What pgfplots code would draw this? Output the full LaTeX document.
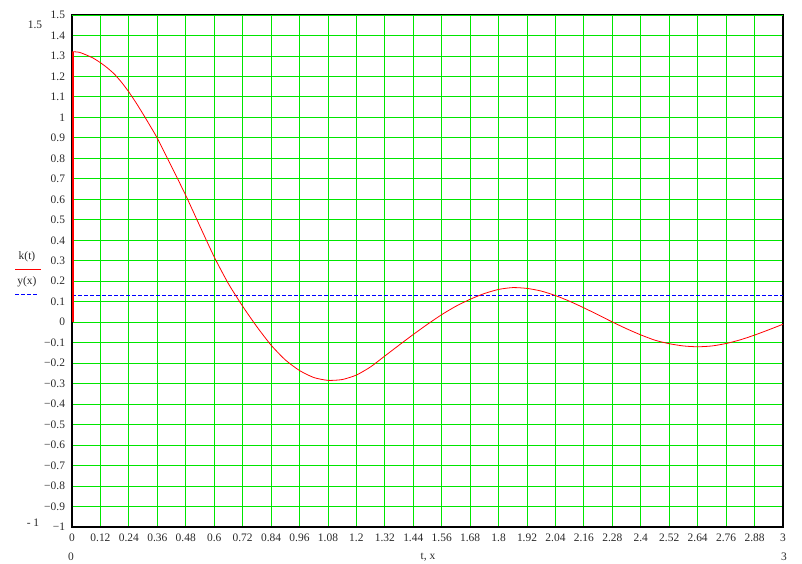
\documentclass[border=0pt]{standalone}
\usepackage{pgfplots}
\pgfplotsset{compat=1.18}
\usepackage{fontspec}
\setmainfont{Liberation Serif}
\definecolor{gridgreen}{RGB}{0,230,0}
\definecolor{txt}{RGB}{40,40,40}
\begin{document}
\fontsize{11.5}{13}\selectfont
\begin{tikzpicture}
\useasboundingbox (0,0) rectangle (802bp,564bp);
\begin{axis}[
  at={(72bp,37bp)}, anchor=south west,
  scale only axis, width=711bp, height=512bp,
  xmin=0, xmax=3, ymin=-1, ymax=1.5,
  xtick={0,0.12,0.24,0.36,0.48,0.6,0.72,0.84,0.96,1.08,1.2,1.32,1.44,1.56,1.68,1.8,1.92,2.04,2.16,2.28,2.4,2.52,2.64,2.76,2.88,3},
  xticklabels={0,0.12,0.24,0.36,0.48,0.6,0.72,0.84,0.96,1.08,1.2,1.32,1.44,1.56,1.68,1.8,1.92,2.04,2.16,2.28,2.4,2.52,2.64,2.76,2.88,3},
  ytick={-1,-0.9,-0.8,-0.7,-0.6,-0.5,-0.4,-0.3,-0.2,-0.1,0,0.1,0.2,0.3,0.4,0.5,0.6,0.7,0.8,0.9,1,1.1,1.2,1.3,1.4,1.5},
  yticklabels={−1,−0.9,−0.8,−0.7,−0.6,−0.5,−0.4,−0.3,−0.2,−0.1,0,0.1,0.2,0.3,0.4,0.5,0.6,0.7,0.8,0.9,1,1.1,1.2,1.3,1.4,1.5},
  major tick length=0pt,
  tick label style={font=\fontsize{11.5}{13}\selectfont, text=txt},
  xticklabel style={yshift=-3bp},
  yticklabel style={xshift=-3bp},
  grid=major,
  major grid style={gridgreen, line width=0.9pt},
  axis line style={black, line width=1.2pt},
  clip=false,
]
\addplot[blue, line width=0.8pt, dash pattern=on 3.5bp off 2.5bp] coordinates {(0,0.133) (3,0.133)};
\addplot[red, line width=0.8pt, smooth, tension=0.4] table {
x y
0 1.321
0.03 1.318
0.06 1.305
0.09 1.289
0.12 1.267
0.15 1.241
0.18 1.21
0.21 1.170
0.24 1.124
0.27 1.072
0.30 1.016
0.33 0.958
0.36 0.898
0.42 0.76
0.48 0.619
0.54 0.468
0.60 0.319
0.66 0.188
0.72 0.078
0.78 -0.022
0.84 -0.112
0.90 -0.184
0.96 -0.236
1.02 -0.270
1.08 -0.284
1.14 -0.280
1.20 -0.258
1.26 -0.218
1.32 -0.165
1.38 -0.112
1.44 -0.060
1.50 -0.010
1.56 0.037
1.62 0.078
1.68 0.112
1.74 0.140
1.80 0.160
1.86 0.169
1.92 0.165
1.98 0.152
2.04 0.130
2.10 0.102
2.16 0.070
2.22 0.036
2.28 0.001
2.34 -0.032
2.40 -0.062
2.46 -0.088
2.52 -0.105
2.58 -0.116
2.64 -0.120
2.70 -0.116
2.76 -0.104
2.82 -0.086
2.88 -0.063
2.94 -0.037
3.00 -0.010
};
\addplot[red, line width=1.6pt, xshift=0.8bp] coordinates {(0,0) (0,1.321)};
\draw[gridgreen, line width=0.9pt] (rel axis cs:0,1) -- (rel axis cs:1,1);
\end{axis}
% outer labels
\node[text=txt] at (35bp,539bp) {1.5};
\node[text=txt] at (33bp,41bp) {- 1};
\node[text=txt] at (71bp,7bp) {0};
\node[text=txt] at (784bp,7bp) {3};
\node[text=txt] at (428bp,7bp) {t, x};
% legend
\node[text=txt] at (27bp,307bp) {k(t)};
\draw[red, line width=0.8pt] (15bp,295bp) -- (41bp,295bp);
\node[text=txt] at (27bp,282bp) {y(x)};
\draw[blue, line width=0.8pt, dash pattern=on 3.5bp off 2.5bp] (15bp,270bp) -- (37bp,270bp);
\end{tikzpicture}
\end{document}
